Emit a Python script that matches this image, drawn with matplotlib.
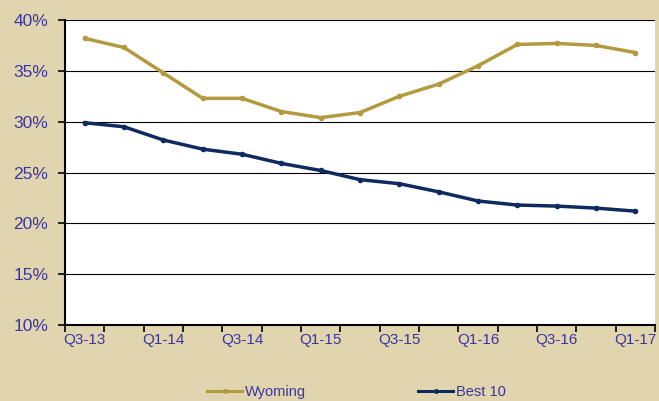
import matplotlib.pyplot as plt
from matplotlib.ticker import FuncFormatter

quarters = ["Q3-13", "Q4-13", "Q1-14", "Q2-14", "Q3-14", "Q4-14", "Q1-15", "Q2-15",
            "Q3-15", "Q4-15", "Q1-16", "Q2-16", "Q3-16", "Q4-16", "Q1-17"]
wyoming = [38.2, 37.3, 34.8, 32.3, 32.3, 31.0, 30.4, 30.9, 32.5, 33.7, 35.5, 37.6, 37.7, 37.5, 36.8]
best10 = [29.9, 29.5, 28.2, 27.3, 26.8, 25.9, 25.2, 24.3, 23.9, 23.1, 22.2, 21.8, 21.7, 21.5, 21.2]

bg = "#E1D5B0"
txt = "#3A35A0"
plt.rcParams['font.family'] = ['Liberation Sans', 'DejaVu Sans']

fig = plt.figure(figsize=(6.59, 4.01), dpi=100, facecolor=bg)
ax = fig.add_axes([0.0986, 0.1895, 0.8954, 0.7605])
ax.set_facecolor("white")

x = list(range(len(quarters)))
ax.plot(x, wyoming, color="#B49A3E", lw=2.5, marker="o", ms=3, label="Wyoming")
ax.plot(x, best10, color="#0E2A5E", lw=2.5, marker="o", ms=3, label="Best 10")

ax.set_xlim(-0.5, len(quarters) - 0.5)
ax.set_ylim(10, 40)
ax.set_yticks(range(10, 41, 5))
ax.yaxis.set_major_formatter(FuncFormatter(lambda v, p: f"{v:.0f}%"))
ax.yaxis.grid(True, color="black", lw=0.8)
ax.set_axisbelow(True)

# tick marks on category boundaries, labels on every other category
ax.set_xticks([i - 0.5 for i in range(len(quarters) + 1)])
ax.set_xticklabels([])
ax.set_xticks(x[::2], minor=True)
ax.set_xticklabels(quarters[::2], minor=True)
ax.tick_params(axis="x", which="minor", length=0, labelsize=11, labelcolor=txt, pad=6)
ax.tick_params(axis="x", which="major", length=5, width=1.2, direction="out")
ax.tick_params(axis="y", length=5, width=1.2, labelsize=12.5, labelcolor=txt, pad=7)
for s in ["top", "right"]:
    ax.spines[s].set_visible(False)
for s in ["left", "bottom"]:
    ax.spines[s].set_linewidth(1.5)

leg = fig.legend(loc="center left", bbox_to_anchor=(207 / 659, 1 - 392 / 401), ncol=2,
                 frameon=False, fontsize=10.5, labelcolor=txt, handlelength=2.4,
                 handletextpad=0.2, columnspacing=7.7, borderpad=0, borderaxespad=0)
for h in leg.legend_handles:
    h.set_linewidth(2.2)
    h.set_markersize(2.5)

fig.savefig("out.png", dpi=100, facecolor=bg)
